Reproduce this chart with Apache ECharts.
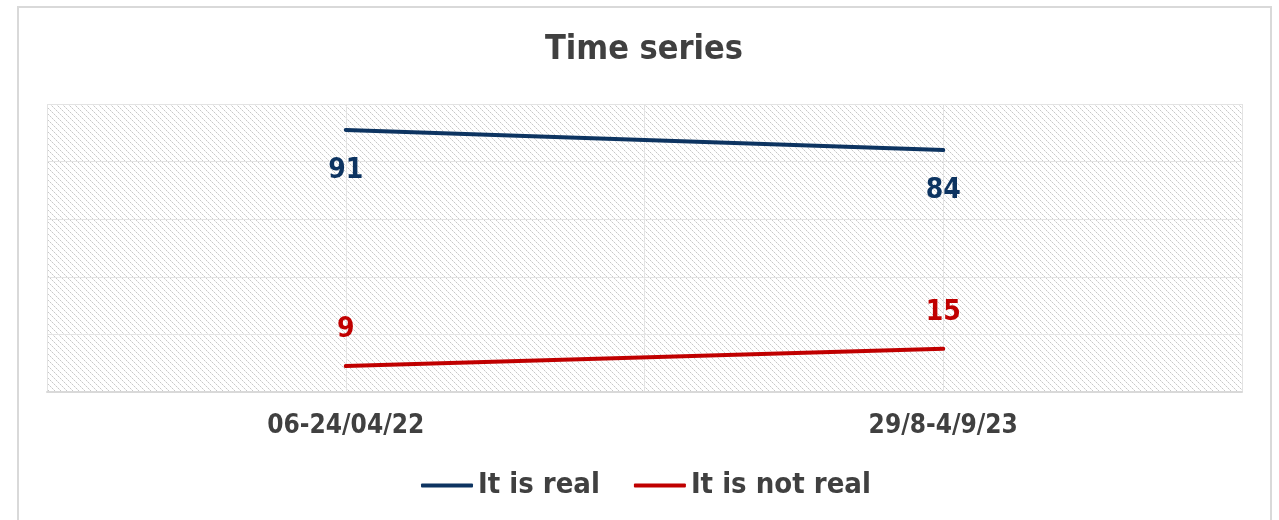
<!DOCTYPE html>
<html>
<head>
<meta charset="utf-8">
<style>
  html, body { margin: 0; padding: 0; background: #ffffff; }
  #chart { width: 1279px; height: 520px; }
</style>
<script src="https://cdn.jsdelivr.net/npm/echarts@6/dist/echarts.min.js"></script>
</head>
<body>
<div id="chart"></div>
<script>
// Survey periods and shares of respondents (%)
const categories = ['06-24/04/22', '29/8-4/9/23'];
const itIsReal = [91, 84];
const itIsNotReal = [9, 15];
const seriesNames = ['It is real', 'It is not real'];
const yTicks = { min: 0, max: 100, interval: 20 };

const FONT = '"DejaVu Sans Condensed", "DejaVu Sans", sans-serif';
const NAVY = '#0d3461';
const RED = '#c00000';
const TEXT = '#404040';

// Diagonal hatch used as the plot-area fill
function hatchPattern() {
  const size = 6;
  const c = document.createElement('canvas');
  c.width = size; c.height = size;
  const ctx = c.getContext('2d');
  ctx.fillStyle = '#ffffff';
  ctx.fillRect(0, 0, size, size);
  for (let i = 0; i < size; i++) {
    ctx.fillStyle = (i % 2 === 0) ? '#c8c8c8' : '#e4e4e4';
    ctx.fillRect(i, i, 1, 1);
  }
  return c;
}

const chart = echarts.init(document.getElementById('chart'), null, { renderer: 'canvas' });

const labelStyle = (color, pos, distance) => ({
  show: true,
  position: pos,
  distance: distance,
  color: color,
  fontFamily: FONT,
  fontWeight: 'bold',
  fontSize: 28
});

chart.setOption({
  backgroundColor: '#ffffff',
  animation: false,
  title: {
    text: 'Time series',
    left: 639,
    textAlign: 'center',
    top: 28,
    textStyle: { fontFamily: FONT, fontWeight: 'bold', fontSize: 34, color: TEXT }
  },
  graphic: [{
    type: 'rect',
    shape: { x: 18, y: 7, width: 1253, height: 530 },
    style: { fill: null, stroke: '#d9d9d9', lineWidth: 2 },
    silent: true,
    z: -1
  }],
  legend: {
    data: seriesNames,
    left: 416,
    top: 466,
    icon: 'roundRect',
    itemWidth: 52,
    itemHeight: 4,
    itemGap: 34,
    textStyle: { fontFamily: FONT, fontWeight: 'bold', fontSize: 29, color: TEXT, padding: [0, 0, 0, 0] }
  },
  grid: {
    left: 47, right: 37, top: 104, bottom: 128,
    show: true,
    borderWidth: 0,
    backgroundColor: { image: hatchPattern(), repeat: 'repeat' }
  },
  xAxis: [{
    type: 'category',
    data: categories,
    boundaryGap: true,
    axisLine: { show: true, lineStyle: { color: '#d9d9d9', width: 2 } },
    axisTick: { show: false },
    splitLine: { show: false },
    axisLabel: { margin: 21, color: TEXT, fontFamily: FONT, fontWeight: 'bold', fontSize: 26 }
  }, {
    // quarter divisions of the plot width for vertical gridlines
    type: 'category',
    data: ['', '', '', ''],
    boundaryGap: true,
    position: 'bottom',
    axisLine: { show: false },
    axisTick: { show: false },
    axisLabel: { show: false },
    splitLine: { show: true, lineStyle: { color: '#e3e3e3', width: 1 } }
  }],
  yAxis: {
    type: 'value',
    min: yTicks.min,
    max: yTicks.max,
    interval: yTicks.interval,
    axisLine: { show: false },
    axisTick: { show: false },
    axisLabel: { show: false },
    splitLine: { show: true, lineStyle: { color: '#e3e3e3', width: 1 } }
  },
  series: [{
    name: seriesNames[0],
    type: 'line',
    data: itIsReal,
    symbol: 'circle',
    symbolSize: 2,
    showSymbol: true,
    lineStyle: { color: NAVY, width: 4, cap: 'round' },
    itemStyle: { color: NAVY },
    label: labelStyle(NAVY, 'bottom', 26)
  }, {
    name: seriesNames[1],
    type: 'line',
    data: itIsNotReal,
    symbol: 'circle',
    symbolSize: 2,
    showSymbol: true,
    lineStyle: { color: RED, width: 4, cap: 'round' },
    itemStyle: { color: RED },
    label: labelStyle(RED, 'top', 21)
  }]
});
</script>
</body>
</html>
